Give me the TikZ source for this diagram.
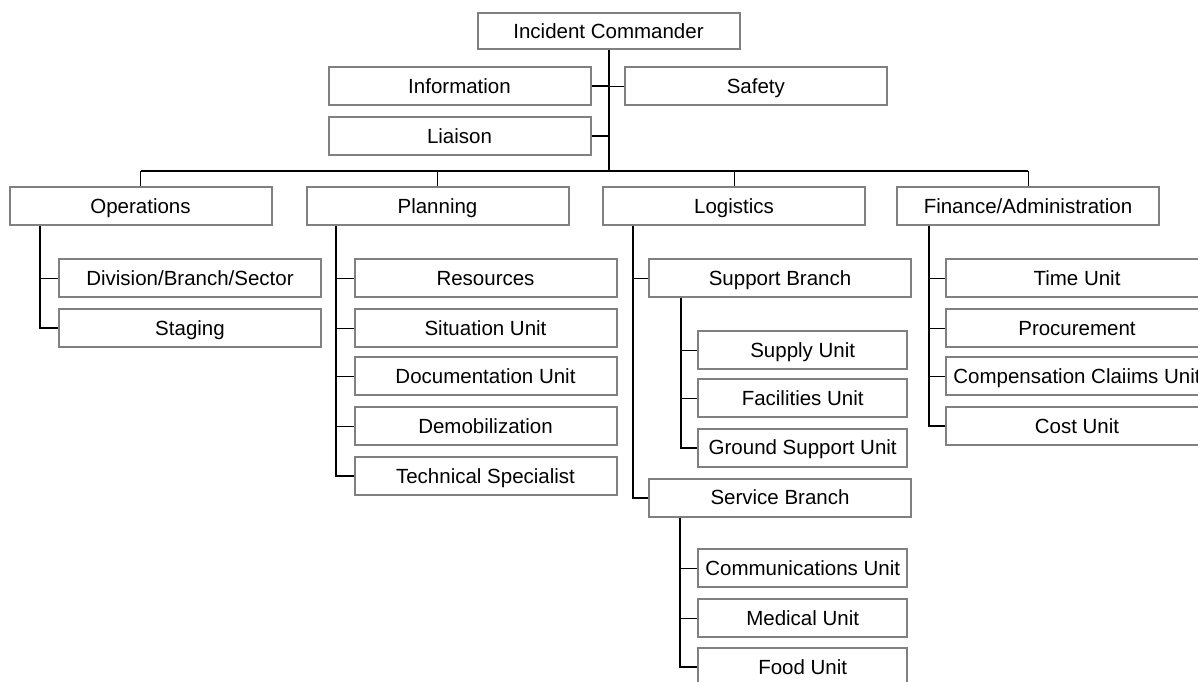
\documentclass[tikz,border=0pt]{standalone}
\usepackage{fontspec}
\setmainfont{Liberation Sans}
\definecolor{boxgray}{RGB}{128,128,128}
\tikzset{
  post/.style={draw=boxgray, line width=2pt, fill=white, inner sep=0pt,
    minimum width=262pt, minimum height=38pt,
    font=\fontsize{20.5}{24}\selectfont, text height=14.7pt, text depth=0pt},
  unitbox/.style={post, minimum width=209pt},
  trunk/.style={black, line width=2pt},
  stub/.style={black, line width=1pt},
}
\begin{document}
\begin{tikzpicture}[x=1pt, y=-1pt]
  \useasboundingbox (0,0) rectangle (1198,681);
  \clip (0,0) rectangle (1198,681);
  % command staff
  \node[post, minimum height=36pt] (ic) at (608.5,31) {Incident Commander};
  \node[post] (info)    at (459.5,86)  {Information};
  \node[post] (safety)  at (755.8,86)  {Safety};
  \node[post] (liaison) at (459.5,136) {Liaison};
  % sections
  \node[post] (ops)  at (140.5,206) {Operations};
  \node[post] (plan) at (437.5,206) {Planning};
  \node[post] (logi) at (734,206)   {Logistics};
  \node[post] (fin)  at (1028,206)  {Finance/Administration};
  % operations
  \node[post] (divi) at (190,278) {Division/Branch/Sector};
  \node[post] (stag) at (190,328) {Staging};
  % planning
  \node[post] (res)   at (485.5,278) {Resources};
  \node[post] (situ)  at (485.5,328) {Situation Unit};
  \node[post] (docu)  at (485.5,376) {Documentation Unit};
  \node[post] (demob) at (485.5,426) {Demobilization};
  \node[post] (tech)  at (485.5,476) {Technical Specialist};
  % logistics
  \node[post] (supp)  at (780,278)   {Support Branch};
  \node[unitbox] (supply) at (802.7,350) {Supply Unit};
  \node[unitbox] (facil)  at (802.7,398) {Facilities Unit};
  \node[unitbox] (ground) at (802.7,447.5) {Ground Support Unit};
  \node[post] (serv)  at (780,497.5) {Service Branch};
  \node[unitbox] (comm) at (802.7,568) {Communications Unit};
  \node[unitbox] (med)  at (802.7,618) {Medical Unit};
  \node[unitbox] (food) at (802.7,667) {Food Unit};
  % finance
  \node[post] (time) at (1077,278) {Time Unit};
  \node[post] (proc) at (1077,328) {Procurement};
  \node[post] (comp) at (1077,376) {Compensation Claiims Unit};
  \node[post] (cost) at (1077,426) {Cost Unit};

  % top connectors
  \coordinate (bar) at (608.5,171);
  \draw[trunk] (ic.south) -- (bar);
  \draw[trunk] (info.east) -- (info.east -| ic.south);
  \draw[trunk] (liaison.east) -- (liaison.east -| ic.south);
  \draw[stub] (safety.west) -- (safety.west -| ic.south);
  \draw[trunk] (ops.north |- bar) -- (fin.north |- bar);
  \foreach \s in {ops,plan,logi,fin}
    \draw[stub] (\s.north) -- (\s.north |- bar);

  % section trunks
  \coordinate (opsx)  at ([xshift=31pt]ops.south west);
  \coordinate (planx) at ([xshift=30pt]plan.south west);
  \coordinate (logix) at ([xshift=30.5pt]logi.south west);
  \coordinate (finx)  at ([xshift=32.5pt]fin.south west);
  \coordinate (suppx) at ([xshift=32.5pt]supp.south west);
  \coordinate (servx) at ([xshift=31.5pt]serv.south west);

  \draw[trunk] (opsx) |- (stag.west);
  \draw[stub] (divi.west) -- (divi.west -| opsx);

  \draw[trunk] (planx) |- (tech.west);
  \foreach \s in {res,situ,docu,demob}
    \draw[stub] (\s.west) -- (\s.west -| planx);

  \draw[trunk] (logix) |- (serv.west);
  \draw[stub] (supp.west) -- (supp.west -| logix);

  \draw[trunk] (suppx) |- (ground.west);
  \foreach \s in {supply,facil}
    \draw[stub] (\s.west) -- (\s.west -| suppx);

  \draw[trunk] (servx) |- (food.west);
  \foreach \s in {comm,med}
    \draw[stub] (\s.west) -- (\s.west -| servx);

  \draw[trunk] (finx) |- (cost.west);
  \foreach \s in {time,proc,comp}
    \draw[stub] (\s.west) -- (\s.west -| finx);
\end{tikzpicture}
\end{document}
